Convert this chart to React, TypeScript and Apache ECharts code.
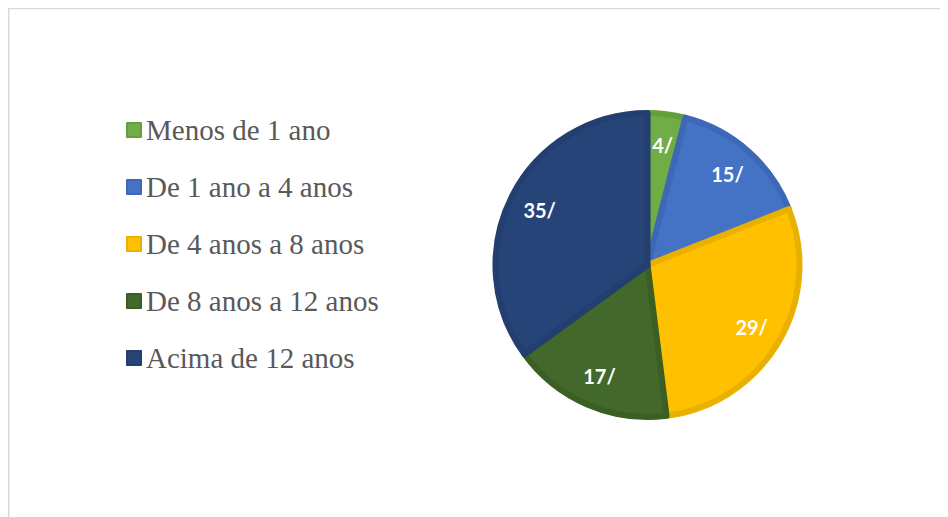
import React, { useEffect, useRef } from "react";
import * as echarts from "echarts";

const categories = [
  "Menos de 1 ano",
  "De 1 ano a 4 anos",
  "De 4 anos a 8 anos",
  "De 8 anos a 12 anos",
  "Acima de 12 anos",
];
const values = [4, 15, 29, 17, 35];
const fillColors = ["#70AD47", "#4472C4", "#FFC000", "#43682B", "#264478"];
const borderColors = ["#63a03b", "#3e68b6", "#E8B000", "#3b5e25", "#223f6f"];

export default function App() {
  const ref = useRef<HTMLDivElement>(null);
  useEffect(() => {
    if (!ref.current) return;
    const chart = echarts.init(ref.current, undefined, { renderer: "svg" });
    const center = [639.5, 257];
    chart.setOption({
      animation: false,
      backgroundColor: "#ffffff",
      legend: {
        orient: "vertical",
        left: 113,
        top: 102,
        itemWidth: 14,
        itemHeight: 14,
        itemGap: 27,
        icon: "rect",
        selectedMode: false,
        data: categories,
        textStyle: {
          fontFamily: "Liberation Serif",
          fontSize: 29,
          color: "#595959",
          lineHeight: 30,
          padding: [0, 0, 0, 0],
        },
      },
      graphic: [
        {
          type: "line",
          shape: { x1: 0, y1: 0.5, x2: 940, y2: 0.5 },
          style: { stroke: "#d9d9d9", lineWidth: 1.5 },
          silent: true,
        },
        {
          type: "line",
          shape: { x1: 0, y1: 0, x2: 0, y2: 509 },
          style: { stroke: "#d9d9d9", lineWidth: 3 },
          silent: true,
        },
      ],
      series: [
        {
          type: "pie",
          center,
          radius: [0, 152],
          startAngle: 90,
          clockwise: true,
          silent: true,
          label: { show: false },
          labelLine: { show: false },
          data: categories.map((name, i) => ({
            name,
            value: values[i],
            itemStyle: {
              color: fillColors[i],
              borderColor: borderColors[i],
              borderWidth: 6,
            },
          })),
        },
        {
          type: "pie",
          center,
          radius: [60, 176],
          startAngle: 90,
          clockwise: true,
          silent: true,
          legendHoverLink: false,
          itemStyle: { color: "rgba(0,0,0,0)", borderWidth: 0 },
          label: {
            show: true,
            position: "inside",
            formatter: "{c}/",
            color: "#ffffff",
            fontFamily: "Lato",
            fontWeight: "bold",
            fontSize: 20,
          },
          labelLine: { show: false },
          data: categories.map((name, i) => ({ name, value: values[i] })),
        },
      ],
    });
    return () => chart.dispose();
  }, []);
  return <div ref={ref} style={{ width: 940, height: 509 }} />;
}
